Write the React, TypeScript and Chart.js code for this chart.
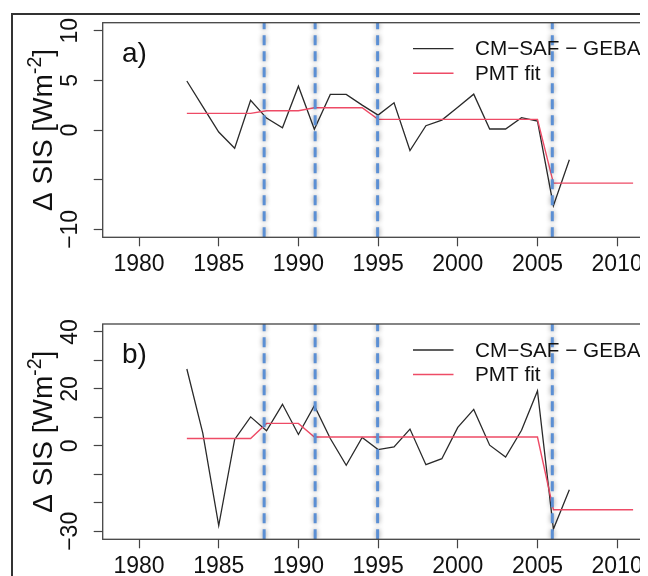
import React, { useEffect, useRef } from "react";
import { Chart, registerables } from "chart.js";

Chart.register(...registerables);

// ---------------- data ----------------
const years = [1983, 1984, 1985, 1986, 1987, 1988, 1989, 1990, 1991, 1992, 1993, 1994, 1995, 1996, 1997, 1998, 1999, 2000, 2001, 2002, 2003, 2004, 2005, 2006, 2007];
const fitYears = [1983, 1984, 1985, 1986, 1987, 1988, 1989, 1990, 1991, 1992, 1993, 1994, 1995, 1996, 1997, 1998, 1999, 2000, 2001, 2002, 2003, 2004, 2005, 2006, 2007, 2008, 2009, 2010, 2011];

const sisDiffA = [4.93, 2.35, -0.2, -1.84, 3.0, 1.2, 0.23, 4.41, 0.07, 3.58, 3.58, 2.5, 1.5, 2.74, -2.07, 0.43, 1.0, 2.3, 3.61, 0.1, 0.1, 1.24, 0.9, -7.62, -3.0];
const pmtFitA = [1.67, 1.67, 1.67, 1.67, 1.67, 1.94, 1.94, 1.94, 2.24, 2.24, 2.24, 2.24, 1.07, 1.07, 1.07, 1.07, 1.07, 1.07, 1.07, 1.07, 1.07, 1.07, 1.07, -5.35, -5.35, -5.35, -5.35, -5.35, -5.35];

const sisDiffB = [27.0, 4.5, -28.0, 2.25, 10.2, 5.3, 14.6, 4.0, 14.1, 2.6, -6.8, 2.96, -1.3, -0.35, 5.9, -6.6, -4.5, 6.5, 12.8, 0.25, -3.9, 5.5, 19.3, -29.2, -15.4];
const pmtFitB = [2.6, 2.6, 2.6, 2.6, 2.6, 7.9, 7.9, 7.9, 3.1, 3.1, 3.1, 3.1, 3.1, 3.1, 3.1, 3.1, 3.1, 3.1, 3.1, 3.1, 3.1, 3.1, 3.1, -22.4, -22.4, -22.4, -22.4, -22.4, -22.4];

const breakYears = [1987.85, 1991.05, 1994.97, 2005.93];

const xTicks = [1980, 1985, 1990, 1995, 2000, 2005, 2010];
const yTicksA = [-10, -5, 0, 5, 10];
const yLabelsA = [-10, 0, 5, 10];
const yTicksB = [-30, -20, -10, 0, 10, 20, 30, 40];
const yLabelsB = [-30, 0, 20, 40];

const seriesNames = ["CM\u2212SAF \u2212 GEBA", "PMT fit"];
const panelTags = ["a)", "b)"];
const axisTitleMain = "\u0394 SIS [Wm";
const axisTitleSup = "-2";
const axisTitleEnd = "]";

// ---------------- style ----------------
const FONT = '"Liberation Sans", Arial, Helvetica, sans-serif';
const BLACK = "#2a2a2a";
const RED = "#ee4b66";
const BLUE = "#5b8fd4";
const CANVAS_W = 700;
const PLOT_LEFT = 94.7;
const PLOT_RIGHT = 645.5;
const X_MIN = 1977.72;
const X_MAX = 2012.28;

const fmt = (v: number) => (v < 0 ? "\u2212" + Math.abs(v) : String(v));

type Panel = {
  canvasH: number;
  plotTop: number;
  plotBottom: number;
  yMin: number;
  yMax: number;
  yTicks: number[];
  yLabels: number[];
  black: number[];
  red: number[];
  tag: string;
};

const glowPlugin = {
  id: "glow",
  beforeDatasetDraw(chart: any, args: any) {
    const ds = chart.data.datasets[args.index];
    if (ds.glow) {
      chart.ctx.save();
      chart.ctx.shadowColor = "rgba(0,0,0,0.45)";
      chart.ctx.shadowBlur = 5;
    }
  },
  afterDatasetDraw(chart: any, args: any) {
    const ds = chart.data.datasets[args.index];
    if (ds.glow) chart.ctx.restore();
  },
};

function decorPlugin(p: Panel) {
  return {
    id: "decor",
    afterDraw(chart: any) {
      const { ctx, chartArea: ca } = chart;
      const y = chart.scales.y;
      ctx.save();
      // plot box
      ctx.strokeStyle = "#444";
      ctx.lineWidth = 1.3;
      ctx.strokeRect(ca.left, ca.top, ca.right - ca.left, ca.bottom - ca.top);

      // rotated y tick labels
      ctx.fillStyle = "#111";
      ctx.font = `23px ${FONT}`;
      for (const v of p.yLabels) {
        const py = y.getPixelForValue(v);
        ctx.save();
        ctx.translate(69, py);
        ctx.rotate(-Math.PI / 2);
        ctx.textAlign = "center";
        ctx.textBaseline = "alphabetic";
        ctx.fillText(fmt(v), 0, 0);
        ctx.restore();
      }

      // y axis title with superscript
      const cy = (ca.top + ca.bottom) / 2;
      const big = `28px ${FONT}`;
      const small = `19.5px ${FONT}`;
      ctx.font = big;
      const w1 = ctx.measureText(axisTitleMain).width;
      const w3 = ctx.measureText(axisTitleEnd).width;
      ctx.font = small;
      const w2 = ctx.measureText(axisTitleSup).width;
      const total = w1 + w2 + w3;
      ctx.save();
      ctx.translate(43.5, cy);
      ctx.rotate(-Math.PI / 2);
      ctx.textAlign = "left";
      ctx.textBaseline = "alphabetic";
      let sx = -total / 2;
      ctx.font = big;
      ctx.fillText(axisTitleMain, sx, 0);
      sx += w1;
      ctx.font = small;
      ctx.fillText(axisTitleSup, sx, -11);
      sx += w2;
      ctx.font = big;
      ctx.fillText(axisTitleEnd, sx, 0);
      ctx.restore();

      // panel tag
      ctx.font = `28px ${FONT}`;
      ctx.textAlign = "left";
      ctx.textBaseline = "alphabetic";
      ctx.fillText(p.tag, 114, ca.top + 39);

      // legend
      const rows = [
        { name: seriesNames[0], color: BLACK, w: 1.3, dy: 26 },
        { name: seriesNames[1], color: RED, w: 1.4, dy: 50.5 },
      ];
      ctx.font = `20.7px ${FONT}`;
      ctx.textBaseline = "middle";
      for (const r of rows) {
        const ly = ca.top + r.dy;
        ctx.strokeStyle = r.color;
        ctx.lineWidth = r.w;
        ctx.beginPath();
        ctx.moveTo(405, ly);
        ctx.lineTo(445.5, ly);
        ctx.stroke();
        ctx.fillStyle = "#111";
        ctx.fillText(r.name, 467, ly + 1);
      }
      ctx.restore();
    },
  };
}

function buildConfig(p: Panel): any {
  const tickGrid = {
    drawOnChartArea: false,
    drawTicks: true,
    tickLength: 9,
    tickColor: "#444",
    tickWidth: 1.2,
  };
  return {
    type: "line",
    data: {
      datasets: [
        ...breakYears.map((b) => ({
          data: [
            { x: b, y: p.yMin },
            { x: b, y: p.yMax },
          ],
          borderColor: BLUE,
          borderWidth: 3,
          borderDash: [10, 6],
          pointRadius: 0,
          order: 0,
          glow: true,
        })),
        {
          label: seriesNames[1],
          data: fitYears.map((x, i) => ({ x, y: p.red[i] })),
          borderColor: RED,
          borderWidth: 1.4,
          pointRadius: 0,
          tension: 0,
          order: 1,
        },
        {
          label: seriesNames[0],
          data: years.map((x, i) => ({ x, y: p.black[i] })),
          borderColor: BLACK,
          borderWidth: 1.3,
          pointRadius: 0,
          tension: 0,
          order: 2,
        },
      ],
    },
    options: {
      responsive: false,
      animation: false,
      events: [],
      layout: {
        padding: { left: 0, right: CANVAS_W - PLOT_RIGHT, top: p.plotTop, bottom: 0 },
      },
      plugins: {
        legend: { display: false },
        tooltip: { enabled: false },
        title: { display: false },
      },
      scales: {
        x: {
          type: "linear",
          min: X_MIN,
          max: X_MAX,
          afterBuildTicks: (s: any) => {
            s.ticks = xTicks.map((v) => ({ value: v }));
          },
          afterFit: (s: any) => {
            s.height = p.canvasH - p.plotBottom;
          },
          grid: tickGrid,
          border: { display: false },
          ticks: {
            font: { family: FONT, size: 23 },
            color: "#111",
            padding: 5,
            maxRotation: 0,
            minRotation: 0,
            autoSkip: false,
            callback: (v: any) => String(v),
          },
        },
        y: {
          type: "linear",
          min: p.yMin,
          max: p.yMax,
          afterBuildTicks: (s: any) => {
            s.ticks = p.yTicks.map((v) => ({ value: v }));
          },
          afterFit: (s: any) => {
            s.width = PLOT_LEFT;
          },
          grid: tickGrid,
          border: { display: false },
          ticks: { display: false },
        },
      },
    },
    plugins: [glowPlugin, decorPlugin(p)],
  };
}

const panelA: Panel = {
  canvasH: 290,
  plotTop: 14.7,
  plotBottom: 229.3,
  yMin: -10.8,
  yMax: 10.8,
  yTicks: yTicksA,
  yLabels: yLabelsA,
  black: sisDiffA,
  red: pmtFitA,
  tag: panelTags[0],
};

const panelB: Panel = {
  canvasH: 278,
  plotTop: 26,
  plotBottom: 241.3,
  yMin: -32.8,
  yMax: 42.8,
  yTicks: yTicksB,
  yLabels: yLabelsB,
  black: sisDiffB,
  red: pmtFitB,
  tag: panelTags[1],
};

function PanelChart({ p, top }: { p: Panel; top: number }) {
  const ref = useRef<HTMLCanvasElement | null>(null);
  useEffect(() => {
    if (!ref.current) return;
    const chart = new Chart(ref.current, buildConfig(p));
    return () => chart.destroy();
  }, [p]);
  return (
    <canvas
      ref={ref}
      width={CANVAS_W}
      height={p.canvasH}
      style={{ position: "absolute", left: 0, top, width: CANVAS_W, height: p.canvasH, display: "block" }}
    />
  );
}

export default function App() {
  return (
    <div style={{ position: "relative", width: 640, height: 568, overflow: "hidden", background: "#fff" }}>
      <div
        style={{
          position: "absolute",
          left: 3,
          top: 5,
          width: 720,
          height: 700,
          border: "2px solid #333",
          boxSizing: "border-box",
        }}
      />
      <PanelChart p={panelA} top={0} />
      <PanelChart p={panelB} top={290} />
    </div>
  );
}
